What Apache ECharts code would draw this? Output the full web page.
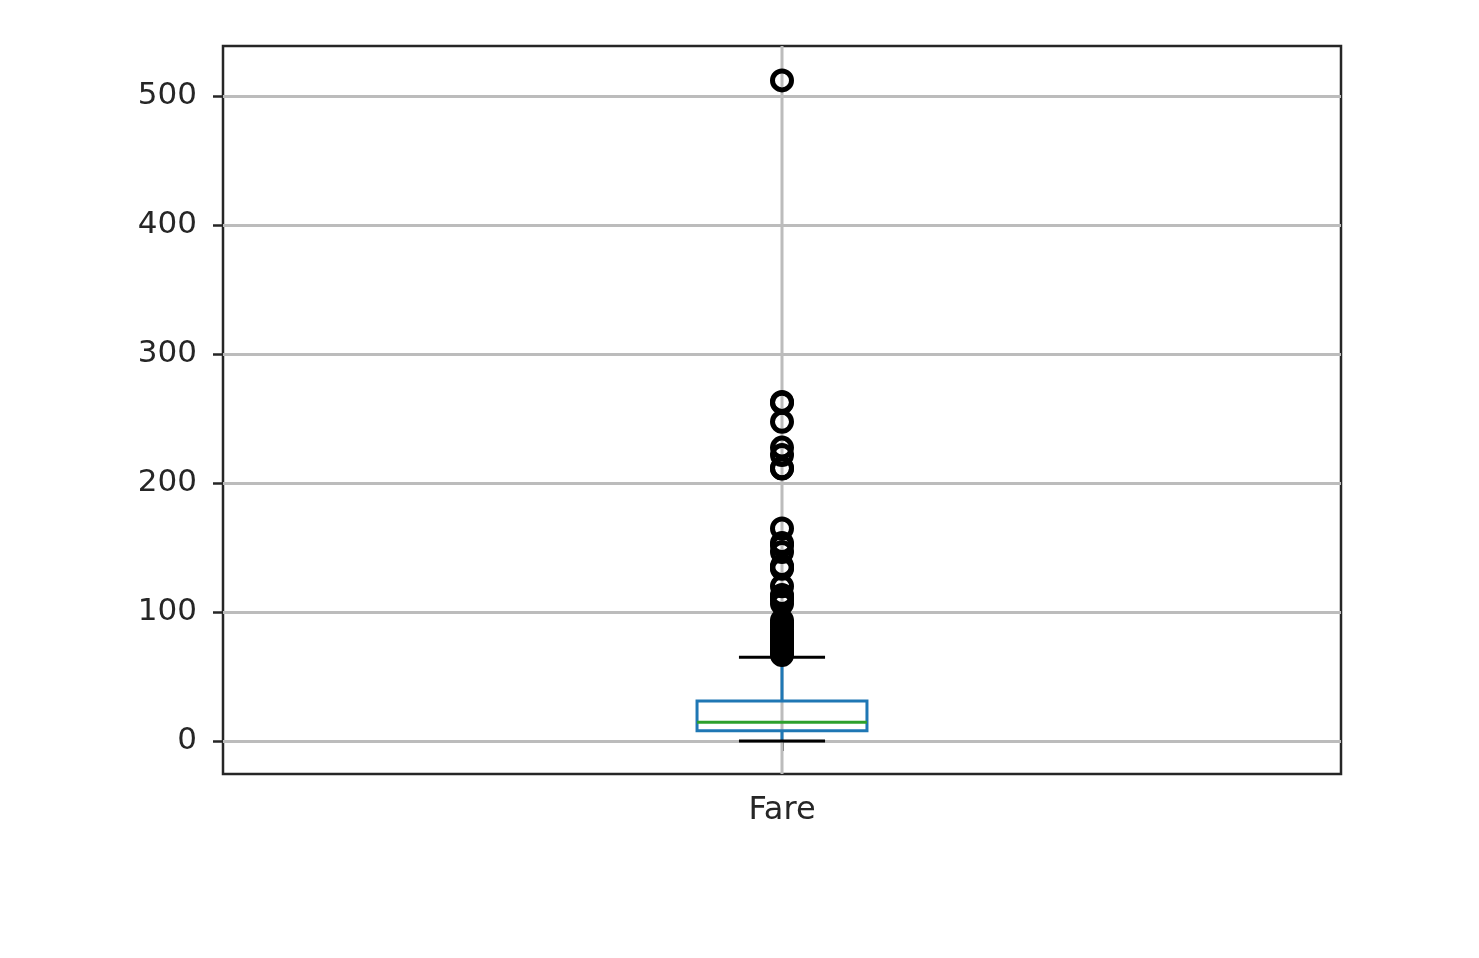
<!DOCTYPE html>
<html>
<head>
<meta charset="utf-8">
<script src="https://cdn.jsdelivr.net/npm/echarts@6/dist/echarts.min.js"></script>
<style>html,body{margin:0;padding:0;background:#fff;}#chart{width:1479px;height:958px;}</style>
</head>
<body>
<div id="chart"></div>
<script>
var categories = ['Fare'];
// [min whisker, Q1, median, Q3, max whisker]
var boxStats = [0, 7.9104, 14.4542, 31.0, 65.0];
var outliers = [66.6, 69.3, 69.55, 71.0, 71.2833, 73.5, 75.25, 76.2917, 76.7292, 77.2875,
  77.9583, 78.2667, 78.85, 79.2, 79.65, 80.0, 81.8583, 82.1708, 83.1583, 83.475,
  86.5, 89.1042, 90.0, 91.0792, 93.5, 106.425, 108.9, 110.8833, 113.275, 120.0,
  133.65, 134.5, 135.6333, 146.5208, 151.55, 153.4625, 164.8667, 211.3375, 211.5,
  221.7792, 227.525, 247.5208, 262.375, 263.0, 512.3292];
var yTicks = [0, 100, 200, 300, 400, 500];

var chart = echarts.init(document.getElementById('chart'), null, {renderer: 'canvas'});
var font = 'DejaVu Sans';
var option = {
  backgroundColor: '#fff',
  animation: false,
  grid: {left: 223, right: 138, top: 46, bottom: 184, show: true, borderColor: '#262626', borderWidth: 2.5, backgroundColor: 'transparent'},
  xAxis: {
    type: 'category',
    data: categories,
    axisLine: {show: false},
    axisTick: {show: true, alignWithLabel: true, length: 10, lineStyle: {color: '#262626', width: 2.5}},
    axisLabel: {margin: 21, fontFamily: font, fontSize: 32, color: '#262626'},
    splitLine: {show: false}
  },
  yAxis: {
    type: 'value',
    min: -25.6,
    max: 539,
    axisLine: {show: false},
    axisTick: {show: true, length: 10, customValues: yTicks, lineStyle: {color: '#262626', width: 2.5}},
    axisLabel: {margin: 26, fontFamily: font, fontSize: 31, color: '#262626', customValues: yTicks},
    splitLine: {show: true, lineStyle: {color: '#bcbcbc', width: 3}}
  },
  series: [
    {
      type: 'custom',
      z: 2,
      data: [[0].concat(boxStats)],
      encode: {x: 0, y: [1, 2, 3, 4, 5]},
      renderItem: function (params, api) {
        var cs = params.coordSys;
        var xi = api.value(0);
        var band = api.size([1, 0])[0];
        var pMin = api.coord([xi, api.value(1)]);
        var pQ1 = api.coord([xi, api.value(2)]);
        var pMed = api.coord([xi, api.value(3)]);
        var pQ3 = api.coord([xi, api.value(4)]);
        var pMax = api.coord([xi, api.value(5)]);
        var cx = pMin[0];
        var hb = band * 0.076;
        var hc = band * 0.0385;
        var blue = '#1f77b4';
        var lw = 3;
        return {
          type: 'group',
          children: [
            {type: 'line', shape: {x1: cx, y1: cs.y, x2: cx, y2: cs.y + cs.height}, style: {stroke: '#bcbcbc', lineWidth: 3}},
            {type: 'line', shape: {x1: cx, y1: pQ1[1], x2: cx, y2: pMin[1]}, style: {stroke: blue, lineWidth: lw}},
            {type: 'line', shape: {x1: cx, y1: pQ3[1], x2: cx, y2: pMax[1]}, style: {stroke: blue, lineWidth: lw}},
            {type: 'line', shape: {x1: cx - hc, y1: pMin[1], x2: cx + hc, y2: pMin[1]}, style: {stroke: '#000', lineWidth: lw}},
            {type: 'line', shape: {x1: cx - hc, y1: pMax[1], x2: cx + hc, y2: pMax[1]}, style: {stroke: '#000', lineWidth: lw}},
            {type: 'rect', shape: {x: cx - hb, y: pQ3[1], width: 2 * hb, height: pQ1[1] - pQ3[1]}, style: {fill: 'none', stroke: blue, lineWidth: lw}},
            {type: 'line', shape: {x1: cx - hb, y1: pMed[1], x2: cx + hb, y2: pMed[1]}, style: {stroke: '#2ca02c', lineWidth: lw}}
          ]
        };
      }
    },
    {
      type: 'scatter',
      z: 3,
      symbol: 'circle',
      symbolSize: 19,
      itemStyle: {color: 'rgba(0,0,0,0)', borderColor: '#000', borderWidth: 5, opacity: 1},
      emphasis: {disabled: true},
      data: outliers.map(function (v) { return [0, v]; })
    }
  ]
};
chart.setOption(option);
</script>
</body>
</html>
